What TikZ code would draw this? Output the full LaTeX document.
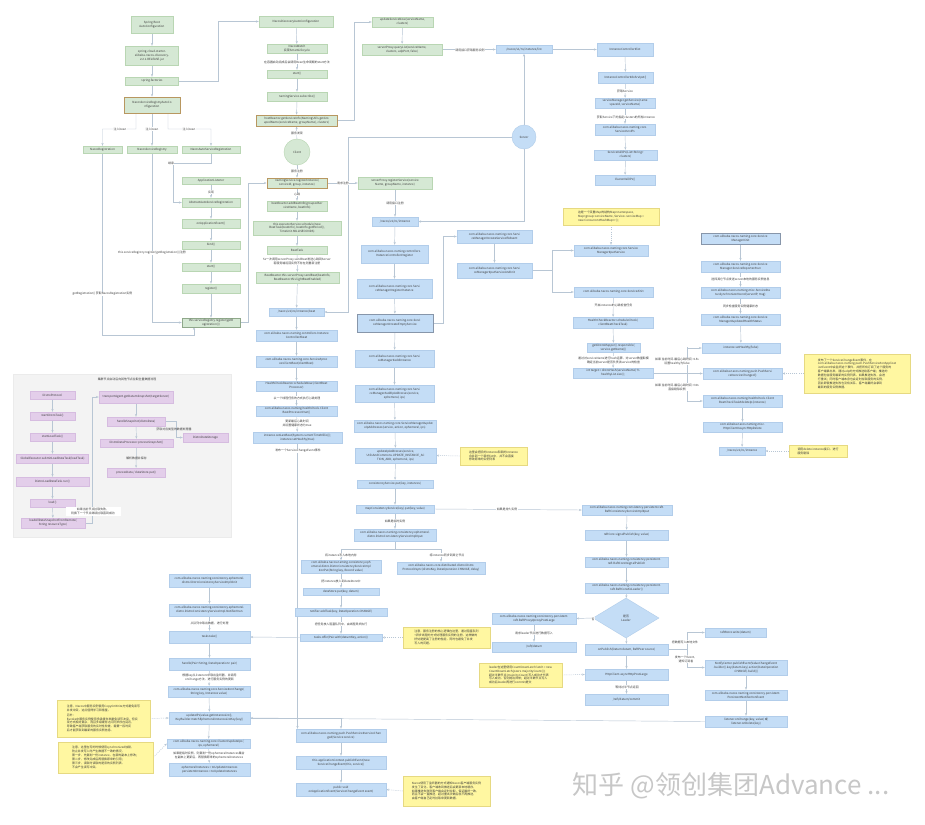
\documentclass[tikz,border=0pt]{standalone}
\usepackage{fontspec}
\setmainfont{Noto Sans CJK SC}
\usetikzlibrary{arrows.meta,shapes.geometric}
\definecolor{G}{HTML}{D5E8D4}
\definecolor{GB}{HTML}{B9D6B3}
\definecolor{GD}{HTML}{8FA88A}
\definecolor{BR}{HTML}{B89760}
\definecolor{B}{HTML}{C4DDF6}
\definecolor{BB}{HTML}{B2CDEA}
\definecolor{BD}{HTML}{8796AA}
\definecolor{P}{HTML}{E3CEEA}
\definecolor{PB}{HTML}{D6BCE0}
\definecolor{Y}{HTML}{FFF7A1}
\definecolor{YB}{HTML}{E6D982}
\definecolor{LN}{HTML}{B8C6D4}
\definecolor{TX}{HTML}{3A3A3A}
\definecolor{PN}{HTML}{F3F3F3}
\pgfdeclarelayer{panel}\pgfdeclarelayer{bg}
\pgfsetlayers{panel,bg,main}
\newcommand\myfs{\fontsize{8.3}{11}\selectfont}
\begin{document}
\begin{tikzpicture}[x=1mm,y=-1mm,
  wh/.style 2 args={minimum width=#1mm, minimum height=#2mm},
  box/.style={draw, line width=1.2pt, align=center, inner sep=0.3mm, font=\myfs, text=TX},
  gb/.style={box, fill=G, draw=GB},
  gbr/.style={box, fill=G, draw=BR, line width=2pt},
  gbd/.style={box, fill=G, draw=GD, line width=1.6pt},
  bb/.style={box, fill=B, draw=BB},
  bbd/.style={box, fill=B, draw=BD, line width=1.6pt},
  pb/.style={box, fill=P, draw=PB},
  note/.style={box, fill=Y, draw=YB, align=left, inner sep=1mm,
    append after command={[draw=YB!80!black, line width=1pt]
      ([xshift=-3mm]\tikzlastnode.north east) -- ([xshift=-3mm,yshift=-3mm]\tikzlastnode.north east) -- ([yshift=-3mm]\tikzlastnode.north east)}},
  lbl/.style={font=\myfs, text=TX, align=center, inner sep=0.3mm},
  lblw/.style={lbl, fill=white},
  ar/.style={draw=LN, line width=1.3pt, -{Stealth[length=8pt,width=6pt]}},
  dar/.style={ar, dashed},
  ln/.style={draw=LN, line width=1.3pt}]
\useasboundingbox (0,0) rectangle (925,824);

% ---------------- left green column
\node[gb,wh={42}{17}] (sb) at (152,24.5) {Spring Boot\\AutoConfiguration};
\node[gb,wh={53}{19}] (jar) at (152,55.5) {spring-cloud-starter-\\alibaba-nacos-discovery-\\2.2.1.RELEASE.jar};
\node[gb,wh={53}{8}] (fac) at (152,81) {spring.factories};
\node[gbr,wh={56}{16}] (nsrac) at (152,105) {NacosServiceRegistryAutoCo\\nfiguration};
\node[gb,wh={39}{7}] (nreg) at (102.5,149.5) {NacosRegistration};
\node[gb,wh={50}{7}] (nsr) at (152,149.5) {NacosServiceRegistry};
\node[gb,wh={58}{7}] (nasr) at (211,149.5) {NacosAutoServiceRegistration};
\node[gb,wh={58}{7}] (appl) at (211,180.5) {ApplicationListener};
\node[gb,wh={58}{9}] (aasr) at (211,202.5) {AbstractAutoServiceRegistration};
\node[gb,wh={58}{9}] (onapp) at (211,223.5) {onApplicationEvent()};
\node[gb,wh={58}{8}] (bind) at (211,245) {bind()};
\node[gb,wh={58}{8}] (start) at (211,267) {start()};
\node[gb,wh={58}{9}] (regi) at (211,288.5) {register()};
\node[gbd,wh={58}{9}] (sreg) at (211,322.5) {this.serviceRegistry.register(getR\\egistration())};

\node[lblw] (l1) at (120,129) {注入bean};
\node[lblw] (l2) at (152,129) {注入bean};
\node[lblw] (l3) at (189,129) {注入bean};
\node[lblw] (l4) at (171,163) {继承};
\node[lblw] (l5) at (211,192) {实现};
\node[lblw] (l6) at (152,253) {this.serviceRegistry.register(getRegistration())注册};
\node[lblw] (l7) at (102.5,294) {getRegistration() 获取NacosRegistration实例};

% ---------------- client column
\node[gb,wh={74}{11}] (ndac) at (296,21.5) {NacosDiscoveryAutoConfiguration};
\node[gb,wh={60}{9}] (nw) at (297,48.5) {NacosWatch\\实现SmartLifecycle};
\node[lblw] (l8) at (297,62) {在容器启动完成后会调用Bean生命周期的start方法};
\node[gb,wh={60}{8}] (nwstart) at (297,74) {start()};
\node[gb,wh={60}{9}] (nsub) at (297,96.5) {namingService.subscribe()};
\node[gbr,wh={81}{11}] (hrs) at (296.5,120.5) {hostReactor.getServiceInfo(NamingUtils.getGro\\upedName(serviceName, groupName), clusters)};
\node[circle, fill=G, draw=GB, line width=1.2pt, minimum size=26mm, font=\myfs, text=TX] (client) at (297,152) {Client};
\node[gbr,wh={60}{10}] (nrsi) at (297,183) {namingService.registerInstance(\\serviceId, group, instance)};
\node[gb,wh={60}{10}] (bra) at (297,206) {beatReactor.addBeatInfo(groupedSer\\viceName, beatInfo)};
\node[gb,wh={88}{14}] (sched) at (297,228) {this.executorService.schedule(new\\BeatTask(beatInfo), beatInfo.getPeriod(),\\TimeUnit.MILLISECONDS)};
\node[gb,wh={60}{8}] (btask) at (297,250) {BeatTask};
\node[lblw] (l9) at (297,261.5) {5s一次调用serverProxy.sendBeat发送心跳到Server\\若服务端返回实例不存在则重新注册};
\node[gb,wh={83}{11}] (sbeat) at (297.5,277.5) {BeatReactor.this.serverProxy.sendBeat(beatInfo,\\BeatReactor.this.lightBeatEnabled)};
\node[lblw] (l10) at (297,133) {服务发现};
\node[lblw] (l11) at (297,171) {服务注册};
\node[lblw] (l12) at (297,194.5) {心跳};
\node[lblw] (l13) at (343,183) {请求注册};

% ---------------- beat (server side, left blue column)
\node[bb,wh={55}{8}] (ibeat) at (296.5,312) {/nacos/v1/ns/instance/beat};
\node[bb,wh={81}{11}] (icbeat) at (296.5,335.5) {com.alibaba.nacos.naming.controllers.Instance\\Controller\#beat};
\node[bb,wh={81}{11}] (pcb) at (296.5,361.5) {com.alibaba.nacos.naming.core.Service\#proc\\essClientBeat(clientBeat)};
\node[bb,wh={81}{10}] (hcnow) at (296.5,386) {HealthCheckReactor.scheduleNow(clientBeat\\Processor)};
\node[lblw] (l14) at (297,398) {以一个线程任务的方式执行心跳处理};
\node[bb,wh={81}{10}] (cbrun) at (296.5,411) {com.alibaba.nacos.naming.healthcheck.Client\\BeatProcessor\#run()};
\node[lblw] (l15) at (297,423.5) {更新最后心跳时间\\并设置健康状态为true};
\node[bb,wh={89}{11}] (setlb) at (297.5,437.5) {instance.setLastBeat(System.currentTimeMillis());\\instance.setHealthy(true)};
\node[lblw] (l16) at (298,451) {发布一个ServiceChangeEvent事件};

% ---------------- register (server side)
\node[gb,wh={61}{10}] (usn) at (402.5,22) {updateServiceNow(serviceName,\\clusters)};
\node[gb,wh={80}{11}] (qlist) at (402,49.5) {serverProxy.queryList(serviceName,\\clusters, udpPort, false)};
\node[lblw] (l17) at (470,50) {调用接口获取服务实例};
\node[gb,wh={74}{12}] (rsvc) at (395,183) {serverProxy.registerService(service\\Name, groupName, instance)};
\node[lblw] (l18) at (395,203) {调用接口注册};
\node[bb,wh={46}{9}] (inst) at (395,221.5) {/nacos/v1/ns/instance};
\node[bb,wh={67}{18}] (icreg) at (394.5,254) {com.alibaba.nacos.naming.controllers.\\InstanceController\#register};
\node[bb,wh={75}{19}] (smreg) at (394.5,288.5) {com.alibaba.nacos.naming.core.Servi\\ceManager\#registerInstance};
\node[bbd,wh={76}{18}] (cempty) at (395,323) {com.alibaba.nacos.naming.core.Servi\\ceManager\#createEmptyService};
\node[bb,wh={79}{17}] (addinst) at (394.5,358.5) {com.alibaba.nacos.naming.core.Servi\\ceManager\#addInstance};
\node[bb,wh={79}{17}] (addip) at (394.5,393.5) {com.alibaba.nacos.naming.core.Servi\\ceManager\#addIpAddresses(service,\\ephemeral, ips)};
\node[bb,wh={82}{12}] (updip) at (395,426) {com.alibaba.nacos.naming.core.ServiceManager\#updat\\eIpAddresses(service, action, ephemeral, ips)};
\node[bb,wh={81}{15}] (upadd) at (395.5,455.5) {updateIpAddresses(service,\\UtilsAndCommons.UPDATE\_INSTANCE\_AC\\TION\_ADD, ephemeral, ips)};
\node[bb,wh={76}{8}] (cput) at (395,484) {consistencyService.put(key, instances)};
\node[bb,wh={78}{8}] (mput) at (395,509) {mapConsistencyService(key).put(key, value)};
\node[lblw] (l19) at (395,521) {如果是临时实例};
\node[bb,wh={82}{12}] (dput) at (395,535) {com.alibaba.nacos.naming.consistency.ephemeral.\\distro.DistroConsistencyServiceImpl\#put};
\node[note,wh={67}{18}] (n1) at (493.5,456) {这里会把旧的instance和新的instance\\合并到一个新的list中，并不会直接\\修改原来的实例列表};

% server circle
\node[circle, fill=B, draw=BB, line width=1.2pt, minimum size=24mm, font=\myfs, text=TX] (server) at (524,137) {Server};
\node[bb,wh={56}{8}] (ilist) at (524,49.5) {/nacos/v1/ns/instance/list};

% list column
\node[bb,wh={56}{13}] (icl) at (625,49.5) {InstanceController\#list};
\node[bb,wh={55}{11}] (dosrv) at (625.5,77.5) {InstanceController\#doSrvIpxt()};
\node[lblw] (l20) at (625,91) {获取Service};
\node[bb,wh={60}{10}] (getsvc) at (625,103) {serviceManager.getService(name\\spaceId, serviceName)};
\node[lblw] (l21) at (626,117) {获取Service下的指定clusters的所有instance};
\node[bb,wh={60}{11}] (srvips) at (625,129.5) {com.alibaba.nacos.naming.core.\\Service\#srvIPs};
\node[bb,wh={63}{10}] (allips) at (625.5,155) {Service\#allIPs(List<String>\\clusters)};
\node[bb,wh={60}{10}] (clallips) at (625,180) {Cluster\#allIPs()};

% createService column
\node[bb,wh={75}{13}] (csia) at (494.5,236.5) {com.alibaba.nacos.naming.core.Servi\\ceManager\#createServiceIfAbsent};
\node[bb,wh={75}{15}] (psai) at (494.5,270.5) {com.alibaba.nacos.naming.core.Servi\\ceManager\#putServiceAndInit};
\node[note,wh={96}{17}] (n2) at (611,216.5) {这是一个双重Map的结构Map<namespace,\\Map<group::serviceName, Service>> serviceMap =\\new ConcurrentHashMap<>();};
\node[bb,wh={74}{11}] (pservice) at (611,250.5) {com.alibaba.nacos.naming.core.Service\\Manager\#putService};
\node[bb,wh={79}{10}] (sinit) at (613.5,292) {com.alibaba.nacos.naming.core.Service\#init};
\node[lblw] (l22) at (613.5,305) {开启instance的心跳检查任务};
\node[bb,wh={80}{11}] (hcsched) at (613,322.5) {HealthCheckReactor.scheduleCheck(\\clientBeatCheckTask)};
\node[bb,wh={53}{9}] (distro) at (613.5,347.5) {getDistroMapper().responsible(\\service.getName())};
\node[lblw] (l23) at (613.5,360) {通过对serviceName进行hash运算，对server数量取模\\确定当前server是否负责该service的检查};
\node[bb,wh={80}{10}] (target) at (613,373) {int target = distroHash(serviceName) \%\\healthyList.size();};
\node[lblw] (l24) at (677,361.5) {如果 当前时间-最后心跳时间 >15s\\设置healthy为false};
\node[lblw] (l25) at (677,387) {如果 当前时间-最后心跳时间 >30s\\直接剔除实例};

% right column
\node[bbd,wh={79}{11}] (sminit) at (740.5,238.5) {com.alibaba.nacos.naming.core.Service\\Manager\#init};
\node[bb,wh={79}{11}] (srep) at (740.5,266.5) {com.alibaba.nacos.naming.core.Service\\Manager.ServiceReporter\#run};
\node[lblw] (l26) at (740.5,279) {选择其它节点发送server本地的服务实例信息};
\node[bb,wh={79}{11}] (ssync) at (740.5,292.5) {com.alibaba.nacos.naming.misc.ServiceSta\\tusSynchronizer\#send(serverIP, msg)};
\node[lblw] (l27) at (740.5,306) {同步检查服务实例健康状态};
\node[bb,wh={79}{11}] (uhs) at (740.5,319.5) {com.alibaba.nacos.naming.core.Service\\Manager\#updatedHealthStatus};
\node[bb,wh={78}{10}] (hfalse) at (741,348) {instance.setHealthy(false)};
\node[bb,wh={79}{11}] (pchg) at (742.5,373.5) {com.alibaba.nacos.naming.push.PushServi\\ce\#serviceChanged()};
\node[bb,wh={79}{12}] (delip) at (742.5,401) {com.alibaba.nacos.naming.healthcheck.Client\\BeatCheckTask\#deleteIp(instance)};
\node[bb,wh={79}{10}] (hdel) at (742.5,427) {com.alibaba.nacos.naming.misc.\\HttpClient\#asyncHttpDelete};
\node[bb,wh={46}{8}] (idel) at (742,451) {/nacos/v1/ns/instance};
\node[note,wh={58}{12}] (n3) at (818,451) {调用delete instance接口，进行\\服务剔除};
\node[note,wh={106}{39}] (n4) at (857,373.5) {发布了一个ServiceChangeEvent事件，在\\com.alibaba.nacos.naming.push.PushService\#onApplicat\\ionEvent中会监听这个事件，并把所有订阅了这个服务的\\客户端拿出来，通过udp的方式推送给客户端；推送的\\数据包含服务最新的实例列表。如果推送失败，会进\\行重试；同时客户端本身也会定时拉取服务的实例，\\因此即使推送失败也没有关系，客户端最终会拿到\\最新的服务实例数据。};

% ---------------- distro / notifier
\node[lblw] (l28) at (341,555) {将instance写入本地内存};
\node[lblw] (l29) at (447,555) {将instance同步到其它节点};
\node[bb,wh={80}{13}] (onput) at (341,567) {com.alibaba.nacos.naming.consistency.eph\\emeral.distro.DistroConsistencyServiceImpl\\\#onPut(String key, Record value)};
\node[bb,wh={88}{12}] (dsync) at (441,568) {com.alibaba.nacos.core.distributed.distro.Distro\\Protocol\#sync(distroKey, DataOperation.CHANGE, delay)};
\node[lblw] (l30) at (341,581) {把instance放入到dataStore中};
\node[bb,wh={76}{7}] (dsput) at (341,591.5) {dataStore.put(key, datum)};
\node[bb,wh={92}{8}] (addtask) at (341,612) {notifier.addTask(key, DataOperation.CHANGE)};
\node[lblw] (l31) at (341,624) {把任务放入阻塞队列中，由线程异步执行};
\node[bb,wh={82}{7}] (offer) at (341,637.5) {tasks.offer(Pair.with(datumKey, action))};
\node[note,wh={87}{21}] (n5) at (446.5,637.5) {注意，服务注册的核心逻辑在这里，通过阻塞队列\\+异步线程的方式处理服务实例的注册，这样做的\\好处是提高了注册的性能，同时也避免了并发\\写入的问题。};

\node[bb,wh={81}{13}] (dinit) at (209.5,580.5) {com.alibaba.nacos.naming.consistency.ephemeral.\\distro.DistroConsistencyServiceImpl\#init};
\node[bb,wh={81}{12}] (nrun) at (209.5,610) {com.alibaba.nacos.naming.consistency.ephemeral.\\distro.DistroConsistencyServiceImpl.Notifier\#run};
\node[lblw] (l32) at (209.5,623) {从队列中取出数据，进行处理};
\node[bb,wh={81}{12}] (take) at (209.5,637) {tasks.take()};
\node[bb,wh={81}{12}] (handle) at (209.5,664) {handle(Pair<String, DataOperation> pair)};
\node[lblw] (l33) at (209.5,678) {根据key从listeners中取出监听器，并调用\\onChange方法，进行服务实例的更新};
\node[bb,wh={82}{11}] (sonch) at (209,691.5) {com.alibaba.nacos.naming.core.Service\#onChange(\\String key, Instances value)};
\node[bb,wh={81}{12}] (upips) at (209.5,718) {updateIPs(value.getInstanceList(),\\KeyBuilder.matchEphemeralInstanceListKey(key))};
\node[bb,wh={83}{9}] (clupd) at (208.5,743.5) {com.alibaba.nacos.naming.core.Cluster\#updateIps(\\ips, ephemeral)};
\node[lblw] (l34) at (209,756) {如果是临时实例，则复制一份ephemeralInstances集合\\在副本上更新后，再替换原来的ephemeralInstances};
\node[bb,wh={81}{13}] (repl) at (209.5,769.5) {ephemeralInstances = toUpdateInstances\\persistentInstances = toUpdateInstances};
\node[note,wh={93}{37}] (n6) at (103.5,718.5) {注意，Nacos中服务实例使用CopyOnWrite方式避免读写\\并发冲突，这点值得学习和借鉴。\\[1mm]另外：\\Eureka中服务实例使用多级缓存来避免读写冲突，但实\\现方式相对复杂，而且多级缓存之间同步存在延迟，\\导致客户端获取服务的实时性较差，需要一段时间\\后才能获取到最新的服务实例信息。};
\node[note,wh={95}{31}] (n7) at (105.5,757.5) {注意，这里在写的时候使用synchronized加锁，\\防止并发写入时产生数据不一致的情况，\\第一步，先复制一份instance，在新的副本上修改；\\第二步，修改完成后再替换原来的引用；\\第三步，读取时读取的是旧的实例列表，\\不会产生读写冲突。};

\node[bb,wh={90}{13}] (psc) at (341,735.5) {com.alibaba.nacos.naming.push.PushService\#serviceChan\\ged(Service service)};
\node[bb,wh={90}{13}] (pub) at (341,762.5) {this.applicationContext.publishEvent(new\\ServiceChangeEvent(this, service))};
\node[bb,wh={90}{13}] (onae) at (341,789.5) {public void\\onApplicationEvent(ServiceChangeEvent event)};
\node[note,wh={87}{30}] (n8) at (446.5,791) {Nacos使用了监听器的方式通知Nacos客户端服务实例\\发生了变化，客户端收到推送后会更新本地缓存，\\如果推送失败则客户端会定时拉取，保证最终一致，\\而且不会一直推送，超过重试次数后就不再推送，\\由客户端自己定时拉取来更新数据。};

% ---------------- raft
\node[lblw] (l35) at (507,509) {如果是持久实例};
\node[bb,wh={90}{10}] (rput) at (627,510) {com.alibaba.nacos.naming.consistency.persistent.raft.\\RaftConsistencyServiceImpl\#put};
\node[bb,wh={83}{10}] (rsig) at (626.5,535) {raftCore.signalPublish(key, value)};
\node[bb,wh={83}{10}] (rcsig) at (626.5,562) {com.alibaba.nacos.naming.consistency.persistent.\\raft.RaftCore\#signalPublish};
\node[bb,wh={83}{10}] (rcpub) at (626.5,588) {com.alibaba.nacos.naming.consistency.persistent.\\raft.RaftCore\#isLeader()};
\node[diamond, fill=B, draw=BB, line width=1.2pt, minimum width=66mm, minimum height=40mm, inner sep=0pt, font=\myfs, text=TX, align=center] (isl) at (626,618) {是否\\Leader};
\node[lblw] (l36) at (593,619) {否};
\node[bb,wh={84}{11}] (proxy) at (534,618.5) {com.alibaba.nacos.naming.consistency.persistent.\\raft.RaftProxy\#proxyPostLarge};
\node[lblw] (l37) at (534,633) {请求leader节点进行数据写入};
\node[bb,wh={84}{10}] (rdatum) at (534,647) {/raft/datum};
\node[bb,wh={83}{11}] (onpub) at (626.5,649.5) {onPublish(Datum datum, RaftPeer source)};
\node[bb,wh={83}{11}] (httpp) at (626.5,674.5) {HttpClient.asyncHttpPostLarge};
\node[lblw] (l38) at (627,687) {等待过半节点返回};
\node[bb,wh={83}{11}] (commit) at (626.5,699.5) {/raft/datum/commit};
\node[note,wh={83}{24}] (n9) at (520.5,675) {leader在这里使用CountDownLatch latch = new\\CountDownLatch(peers.majorityCount());\\超过半数节点(majorityCount)写入成功才代表\\写入成功，否则抛出异常；超过半数节点写入\\成功后leader再进行commit提交};
\node[lblw] (l39) at (685,642) {把数据写入本地文件};
\node[lblw] (l40) at (686,659) {发布一个Event，\\通知订阅者};
\node[bb,wh={61}{9}] (rwrite) at (735.5,632.5) {raftStore.write(datum)};
\node[bb,wh={82}{15}] (npub) at (746,667.5) {NotifyCenter.publishEvent(ValueChangeEvent\\.builder().key(datum.key).action(DataOperation\\.CHANGE).build())};
\node[bb,wh={82}{10}] (ponev) at (746,695) {com.alibaba.nacos.naming.consistency.persistent.\\PersistentNotifier\#onEvent};
\node[bb,wh={82}{11}] (lon) at (746,721.5) {listener.onChange(key, value) 或\\listener.onDelete(key)};

% ---------------- gray panel
\node[lbl] (ptitle) at (127,379.5) {集群节点启动后向其他节点拉取全量数据流程};
\node[pb,wh={45}{8}] (dp) at (52.5,395) {DistroProtocol};
\node[pb,wh={45}{8}] (sdt) at (52.5,416) {startDistroTask()};
\node[pb,wh={45}{8}] (slt) at (52.5,437) {startLoadTask()};
\node[pb,wh={72}{9}] (gsub) at (52.5,458.5) {GlobalExecutor.submitLoadDataTask(loadTask)};
\node[pb,wh={73}{9}] (dlrun) at (52.5,481.5) {DistroLoadDataTask.run()};
\node[pb,wh={45}{8}] (load) at (52.5,503) {load()};
\node[pb,wh={64}{10}] (lall) at (53,523) {loadAllDataSnapshotFromRemote(\\String resourceType)};
\node[lbl, fill=white, wh={55}{9}] (pnote) at (93,511.5) {如果当前节点拉取失败，\\则换下一个节点继续拉取直到成功};
\node[pb,wh={74}{12}] (rtop) at (136,397) {transportAgent.getDatumSnapshot(targetServer)};
\node[pb,wh={58}{9}] (rhd) at (136,421.5) {handleSnapshot(distroData)};
\node[lbl] (l41) at (174,429) {获取对应类型的数据处理器};
\node[pb,wh={45}{9}] (dds) at (205.5,437.5) {DistroDataStorage};
\node[pb,wh={73}{8}] (rproc) at (136.5,443) {DistroDataProcessor.processSnapshot()};
\node[lbl] (l42) at (136.5,458) {解析数据并保存};
\node[pb,wh={58}{9}] (rsave) at (136,472.5) {processData / dataStore.put()};

% watermark
\node[font=\fontsize{74}{74}\selectfont, text=black!22, inner sep=0pt] (wm) at (731,786) {知乎 @领创集团Advance ...};

\begin{pgfonlayer}{panel}
\fill[white] (0,0) rectangle (925,824);
\filldraw[fill=PN, draw=black!8, line width=1pt] (13,374) rectangle (231,537);
\end{pgfonlayer}

\begin{pgfonlayer}{bg}
% left green
\draw[ar] (sb) -- (jar);
\draw[ar] (jar) -- (fac);
\draw[ar] (fac) -- (nsrac);
\draw[ar] ([xshift=-16mm]nsrac.south) -- (136,129) -- (102.5,129) -- (nreg.north);
\draw[ar] (nsrac.south) -- (nsr.north);
\draw[ar] ([xshift=16mm]nsrac.south) -- (168,129) -- (211,129) -- (nasr.north);
\draw[ar] (nasr.south) -- (211,163) -- (173,163) -- (173,202.5) -- (aasr.west);
\draw[ar] (appl) -- (aasr);
\draw[ar] (aasr) -- (onapp);
\draw[ar] (onapp) -- (bind);
\draw[ar] (bind) -- (start);
\draw[ar] (start) -- (regi);
\draw[ar] (regi) -- (sreg);
\draw[ar] (nreg.south) -- (102.5,335) -- (194,335) -- (194,327);
\draw[ar] (nsr.south) -- (152,322.5) -- (sreg.west);
\draw[ar] (fac.east) -- (218,81) -- (218,21.5) -- (ndac.west);
% client
\draw[ar] (ndac) -- (nw);
\draw[ar] (nw) -- (nwstart);
\draw[ar] (nwstart) -- (nsub);
\draw[ar] (nsub) -- (hrs);
\draw[ar] (client) -- (hrs);
\draw[ar] (client) -- (nrsi);
\draw[ar] (nrsi) -- (bra);
\draw[ar] (bra) -- (sched);
\draw[ar] (sched) -- (btask);
\draw[ar] (btask) -- (sbeat);
\draw[ar] (sbeat) -- (ibeat);
\draw[ar] (sreg.east) -- (248,322.5) -- (248,183) -- (nrsi.west);
\draw[ar] (nrsi.east) -- (rsvc.west);
\draw[ar] (hrs.east) -- (354,120.5) -- (354,22) -- (usn.west);
\draw[ar] (usn) -- (qlist);
\draw[ar] (qlist) -- (ilist);
\draw[ar] (server) -- (ilist);
\draw[ar] (ilist) -- (icl);
\draw[ar] (icl) -- (dosrv);
\draw[ar] (dosrv) -- (getsvc);
\draw[ar] (getsvc) -- (srvips);
\draw[ar] (srvips) -- (allips);
\draw[ar] (allips) -- (clallips);
\draw[ar] (server.west) -- (348,137) -- (348,312) -- (ibeat.east);
\draw[ar] (server.south) -- (524,221.5) -- (inst.east);
% beat chain
\draw[ar] (ibeat) -- (icbeat);
\draw[ar] (icbeat) -- (pcb);
\draw[ar] (pcb) -- (hcnow);
\draw[ar] (hcnow) -- (cbrun);
\draw[ar] (cbrun) -- (setlb);
\draw[ar] (setlb.south) -- (psc.north -| setlb.south);
% register chain
\draw[ar] (rsvc) -- (inst);
\draw[ar] (inst) -- (icreg);
\draw[ar] (icreg) -- (smreg);
\draw[ar] (smreg) -- (cempty);
\draw[ar] (cempty) -- (addinst);
\draw[ar] (addinst) -- (addip);
\draw[ar] (addip) -- (updip);
\draw[ar] (updip) -- (upadd);
\draw[ar] (upadd) -- (cput);
\draw[ar] (cput) -- (mput);
\draw[ar] (mput) -- (dput);
\draw[ar] (mput.east) -- (rput.west);
\draw[dar] (n1.west) -- (upadd.east);
\draw[ar] (cempty.east) -- (443,323) -- (443,236.5) -- (csia.west);
\draw[ar] (csia) -- (psai);
\draw[ar] (psai.east) -- (552,270.5) -- (552,250.5) -- (pservice.west);
\draw[ar] (psai.east) -- (552,270.5) -- (552,292) -- (sinit.west);
\draw[dar] (n2.south) -- (pservice.north);
\draw[ar] (sinit) -- (hcsched);
\draw[ar] (hcsched) -- (distro);
\draw[ar] (distro) -- (target);
\draw[ln] (target.east) -- (687,373);
\draw[ln] (687,347) -- (687,401);
\draw[ar] (687,348) -- (hfalse.west);
\draw[ar] (687,373.5) -- (pchg.west);
\draw[ar] (687,401) -- (delip.west);
\draw[ar] (sminit) -- (srep);
\draw[ar] (srep) -- (ssync);
\draw[ar] (ssync) -- (uhs);
\draw[ar] (uhs) -- (hfalse);
\draw[ar] (delip) -- (hdel);
\draw[ar] (hdel) -- (idel);
\draw[dar] (n3.west) -- (idel.east);
\draw[dar] (n4.west) -- (pchg.east);
% distro
\draw[ln] (dput.south) -- (395,549);
\draw[ar] (395,549) -- (341,549) -- (onput.north);
\draw[ar] (395,549) -- (441,549) -- (dsync.north);
\draw[ar] (onput) -- (dsput);
\draw[ar] (dsput) -- (addtask);
\draw[ar] (addtask) -- (offer);
\draw[ar] (offer.west) -- (take.east);
\draw[dar] (n5.west) -- (offer.east);
\draw[ar] (dinit) -- (nrun);
\draw[ar] (nrun) -- (take);
\draw[ar] (take) -- (handle);
\draw[ar] (handle) -- (sonch);
\draw[ar] (sonch) -- (upips);
\draw[ar] (upips) -- (clupd);
\draw[ar] (clupd) -- (repl);
\draw[dar] (n6.east) -- (upips.west);
\draw[dar] (n7.east) -- (clupd.west);
\draw[ar] (upips.east) -- (341,718) -- (psc.north);
\draw[ar] (lon.west) -- (upips.east);
\draw[ar] (psc) -- (pub);
\draw[ar] (pub) -- (onae);
\draw[dar] (n8.west) -- (onae.east);
% raft
\draw[ar] (rput) -- (rsig);
\draw[ar] (rsig) -- (rcsig);
\draw[ar] (rcsig) -- (rcpub);
\draw[ar] (rcpub) -- (isl);
\draw[ar] (isl) -- (onpub);
\draw[ar] (isl.west) -- (proxy.east);
\draw[ar] (proxy) -- (rdatum);
\draw[ar] (onpub) -- (httpp);
\draw[ar] (httpp) -- (commit);
\draw[dar] (n9.east) -- (httpp.west);
\draw[ln] (onpub.east) -- (687,649.5);
\draw[ln] (687,632.5) -- (687,667.5);
\draw[ar] (687,632.5) -- (rwrite.west);
\draw[ar] (687,667.5) -- (npub.west);
\draw[ar] (npub) -- (ponev);
\draw[ar] (ponev) -- (lon);
% panel
\draw[ar] (dp) -- (sdt);
\draw[ar] (sdt) -- (slt);
\draw[ar] (slt) -- (gsub);
\draw[ar] (gsub) -- (dlrun);
\draw[ar] (dlrun) -- (load);
\draw[ar] (load) -- (lall);
\draw[ar] (lall.east) -- (92,523) -- (92,397) -- (rtop.west);
\draw[ar] (rtop) -- (rhd);
\draw[ar] (rhd) -- (rproc);
\draw[ar] (rhd.east) -- (176,421.5) -- (176,437.5) -- (dds.west);
\draw[ar] (rproc) -- (rsave);
\end{pgfonlayer}
\end{tikzpicture}
\end{document}
